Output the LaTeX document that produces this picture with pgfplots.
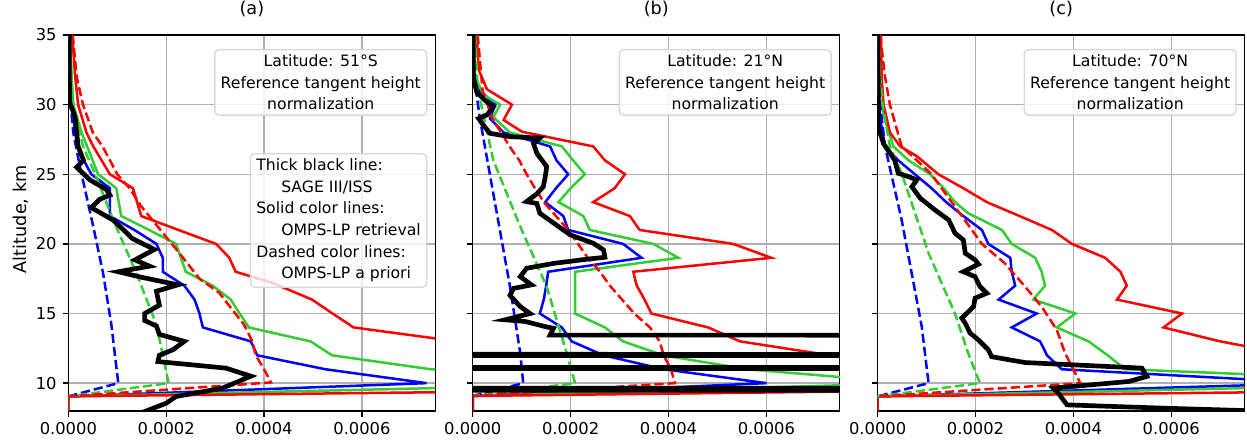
\documentclass[border=0pt]{standalone}
\usepackage{fontspec}
\setmainfont{DejaVu Sans}
\usepackage{pgfplots}
\pgfplotsset{compat=1.18}
\definecolor{mgreen}{RGB}{50,205,50}
\definecolor{gridgray}{RGB}{176,176,176}
\definecolor{boxgray}{RGB}{215,215,215}

\pgfplotsset{
  prof/.style={
    scale only axis, width=220.2pt, height=225.6pt,
    xmin=0, xmax=7.5, ymin=8, ymax=35,
    xtick={0,2,4,6}, xticklabels={0.0000,0.0002,0.0004,0.0006},
    ytick={10,15,...,35},
    grid=major, grid style={gridgray, line width=0.8pt},
    axis line style={line width=0.8pt},
    tick style={black, line width=0.8pt},
    tick align=outside, major tick length=3.5pt,
    xtick pos=bottom, ytick pos=left,
    tick label style={font=\fontsize{9.8}{11}\selectfont},
    /pgf/number format/assume math mode=true,
    title style={at={(0.5,1)}, anchor=south, inner sep=2pt, yshift=2.5pt,
      font=\fontsize{10.6}{12}\selectfont},
    unbounded coords=jump,
  },
  col/.style={line width=1.5pt},
  dsh/.style={line width=1.5pt, dash pattern=on 5.5pt off 2.4pt},
  blk/.style={line width=2.8pt, black},
}
\tikzset{
  box/.style={draw=boxgray, rounded corners=2.5pt, fill=white, fill opacity=0.8,
    text opacity=1, inner xsep=3.5pt, inner ysep=3pt, line width=0.8pt,
    font=\fontsize{9.4}{13}\selectfont, anchor=north east},
}

\begin{document}
\begin{tikzpicture}
\useasboundingbox (-41pt,-19.2pt) rectangle (707.2pt,246.6pt);

% ---- (a) 51S
\begin{axis}[prof, title={(a)}, ylabel={Altitude, km},
  ylabel style={at={(axis description cs:-0.13,0.51)}, anchor=center,
    font=\fontsize{10.6}{12}\selectfont}]
\addplot[col, blue] coordinates {(0.02,35) (0.03,32) (0.07,30) (0.14,28) (0.24,26.5) (0.47,25) (0.85,24) (0.85,22) (1.35,21) (1.8,20) (1.93,19) (1.93,18) (2.37,17) (2.58,16) (2.68,15) (2.75,14) (3.73,13) (3.86,12) (5.25,11) (7.32,10) (0,9.05) (0,8)};
\addplot[col, mgreen] coordinates {(0.03,35) (0.07,32) (0.1,30) (0.27,28) (0.44,26.5) (0.61,25) (0.98,24) (1.08,22) (1.65,21) (2.2,20) (2.3,19) (2.4,18) (2.95,17) (3.32,16) (3.5,15) (3.69,14) (4.95,13) (5.39,12) (7.4,11) (12,10) (0,9.05) (0,8)};
\addplot[col, red] coordinates {(0.08,35) (0.14,32) (0.2,30) (0.37,28) (0.51,27) (0.85,25) (1.32,24) (1.49,22) (2.25,21) (3.02,20) (3.29,19) (3.42,18) (4.17,17.2) (4.98,16) (5.4,15) (5.83,14) (7.95,13) (11,12) (15,11) (24,10) (0,9.05) (0,8)};
\addplot[dsh, blue] coordinates {(0.01,35) (0.03,32) (0.05,30) (0.1,28) (0.24,25.5) (0.51,21.24) (0.71,17.9) (0.88,14.19) (1.02,10) (0,9.05)};
\addplot[dsh, mgreen] coordinates {(0.03,35) (0.06,32) (0.1,30) (0.3,27) (0.55,25) (0.92,21.7) (1.39,17.9) (1.8,14.2) (2.05,10) (0,9.05)};
\addplot[dsh, red] coordinates {(0.09,35) (0.17,32) (0.3,30) (0.5,28) (0.7,27) (0.85,26) (1.0,25) (1.25,24) (1.49,22.7) (1.93,20.8) (2.3,19.2) (2.68,17.5) (3.08,16.5) (3.59,14.2) (3.76,13) (3.83,12) (4.0,11) (4.14,10.05) (0,9.05)};
\addplot[blk] coordinates {(0.02,35) (0.02,32) (0.03,30.1) (0.1,29.5) (0.14,29.1) (0.17,28) (0.2,27) (0.31,26) (0.17,25.5) (0.44,24.6) (0.78,23.9) (0.85,23.5) (0.64,23.2) (0.47,22.6) (0.92,21.7) (1.19,20.8) (1.3,20.4) (1.76,19.6) (1.36,18.85) (1.66,18.4) (1.02,18.0) (1.5,17.6) (2.24,17.06) (1.8,16.6) (1.86,15.6) (1.56,15.0) (1.56,14.5) (1.8,14.1) (1.86,13.5) (2.37,13.0) (2.14,12.4) (1.86,12.0) (1.83,11.55) (3.22,11.08) (3.73,10.5) (3.15,9.64) (2.2,9.04) (2.0,8.56) (1.56,7.96) (1.3,7.7)};
\node[box, align=center] at (rel axis cs:1,1) [xshift=-4.8pt, yshift=-8.4pt]
  {Latitude: 51°S\\Reference tangent height\\normalization};
\node[box, align=left] at (rel axis cs:1,1) [xshift=-4.8pt, yshift=-70.8pt]
  {Thick black line:\\\hspace*{15pt}SAGE III/ISS\\Solid color lines:\\\hspace*{15pt}OMPS-LP retrieval\\Dashed color lines:\\\hspace*{15pt}OMPS-LP a priori};
\end{axis}

% ---- (b) 21N
\begin{axis}[prof, at={(242.6pt,0pt)}, title={(b)}, yticklabels={}]
\addplot[col, blue] coordinates {(0,35) (0.01,32) (0.15,31) (0.46,30) (0.35,29) (0.63,28) (1.58,27) (1.71,26) (1.95,25) (1.7,24) (1.48,23) (1.85,22) (1.95,21) (3.07,20) (3.45,19) (1.54,18) (1.5,17) (1.45,16) (1.37,15) (1.82,14) (2.02,13) (2.67,12) (3.9,11) (6.0,10) (0,9.08) (0,8)};
\addplot[col, mgreen] coordinates {(0.01,35) (0.05,32) (0.22,30.7) (0.56,30) (0.42,29.1) (0.76,28) (1.82,27) (2.05,26) (2.29,25) (2.0,24) (1.75,23) (2.26,22) (2.39,21) (3.69,20) (4.2,19) (2.09,18) (2.09,17) (2.09,15) (2.7,14) (3.07,13) (3.89,12) (5.6,11) (9,10) (0,9.08) (0,8)};
\addplot[col, red] coordinates {(0.08,35) (0.12,32.5) (0.29,31.1) (0.8,30) (0.63,28.9) (1.0,28.06) (2.46,27) (2.7,26) (3.11,25) (2.9,24) (2.46,23) (3.21,22) (3.41,21) (5.32,20) (6.1,19) (3.28,18) (3.35,17) (3.48,16.2) (3.65,15) (4.81,14) (5.46,13) (7.3,12) (10,11) (22,10) (0,9.08) (0,8)};
\addplot[dsh, blue] coordinates {(0.03,35) (0.05,31.4) (0.15,28.9) (0.42,23.6) (0.76,16.94) (0.97,12.15) (1.03,10) (0,9.08)};
\addplot[dsh, mgreen] coordinates {(0.05,35) (0.1,31) (0.18,29.86) (0.42,26) (0.97,21.24) (1.51,16.94) (1.92,12.15) (2.09,10) (0,9.08)};
\addplot[dsh, red] coordinates {(0.1,35) (0.2,31) (0.3,30) (0.4,29) (0.58,28) (0.75,27) (0.95,26) (1.1,25) (1.27,24) (1.45,23) (1.7,22) (1.95,21) (2.15,20) (2.35,19) (2.6,18) (2.8,17) (3.05,16) (3.3,15) (3.62,14) (3.82,13) (3.9,12) (4.05,11) (4.13,10) (0,9.08)};
\addplot[blk] coordinates {(0.01,35) (0.01,32) (0.08,30.9) (0.25,30.3) (0.42,29.85) (0.29,29.26) (0.12,29.0) (0.2,28.6) (0.35,27.94) (0.76,27.7) (1.37,27.6) (1.24,27.2) (1.31,26.5) (1.51,25.55) (1.48,24.8) (1.44,24.1) (1.31,23.6) (1.1,23.04) (1.31,22.9) (1.37,22.2) (1.65,21.5) (1.99,20.65) (2.46,20.05) (2.67,19.57) (2.7,19.04) (2.33,18.9) (1.65,18.6) (1.1,18.25) (0.97,17.65) (1.2,17.06) (0.83,16.8) (0.76,16.3) (0.97,15.5) (1.17,15.0) (0.66,14.55) (1.07,14.43) (1.48,14.06) (1.65,13.94) (1.58,13.45) (200,13.3)
  (0,nan) (-200,12.09) (200,12.05) (-200,11.9)
  (0,nan) (-200,11.15) (200,11.1) (-200,11.0)
  (0,nan) (-200,9.66) (200,9.6) (-200,9.38)};
\node[box, align=center] at (rel axis cs:1,1) [xshift=-4.8pt, yshift=-8.4pt]
  {Latitude: 21°N\\Reference tangent height\\normalization};
\end{axis}

% ---- (c) 70N
\begin{axis}[prof, at={(485.6pt,0pt)}, title={(c)}, yticklabels={}]
\addplot[col, blue] coordinates {(0,35) (0.01,32) (0.05,29) (0.15,27) (0.42,26) (0.76,25) (1.1,24) (1.4,23) (1.75,22) (2.13,21) (2.26,20) (2.71,19) (2.74,18) (2.81,17) (2.47,16) (3.25,15) (2.74,14) (3.32,13) (3.46,12) (3.76,11) (9,10) (0,9.05) (0,8)};
\addplot[col, mgreen] coordinates {(0,35) (0.01,31) (0.15,28.9) (0.32,27) (0.63,26) (1.07,25) (1.35,24) (1.58,23) (1.85,22.2) (2.54,21) (2.74,20) (3.22,19) (3.35,18) (3.42,17) (3.18,16) (4.04,15) (3.66,14) (4.31,13) (4.7,12) (5.06,11) (12,10) (0,9.05) (0,8)};
\addplot[col, red] coordinates {(0.07,35) (0.08,32) (0.12,30) (0.25,28) (0.46,27) (0.8,26.3) (1.24,25) (1.75,24) (2.23,23) (2.9,22) (3.56,21) (3.97,20) (4.65,19) (4.96,18) (5.09,17) (4.89,16) (6.22,15) (5.84,14) (7.0,13) (8.5,12) (12,11) (25,10) (0,9.05) (0,8)};
\addplot[dsh, blue] coordinates {(0,35) (0.02,32) (0.05,30) (0.15,27) (0.49,21.72) (0.9,14.07) (1.04,10) (0,9.05)};
\addplot[dsh, mgreen] coordinates {(0.02,35) (0.05,32) (0.1,30) (0.25,27) (0.49,25.07) (1.04,19.33) (1.58,15) (1.85,12.15) (2.09,10) (0,9.05)};
\addplot[dsh, red] coordinates {(0.05,35) (0.15,32) (0.25,30) (0.49,27) (0.8,26) (1.1,25) (1.51,23) (1.72,22) (2.13,20) (2.6,18.6) (3.01,16.94) (3.35,15.5) (3.66,13.83) (3.83,12.15) (4.14,10) (0,9.05)};
\addplot[blk] coordinates {(0,35) (0.01,32) (0.01,28.4) (0.12,27.2) (0.35,26) (0.42,25.07) (0.63,24.83) (0.8,24.6) (0.7,24.1) (0.87,23.28) (1.17,22.44) (1.45,21.72) (1.58,20.77) (1.75,20.29) (1.79,19.33) (1.99,18.85) (2.06,18.54) (1.75,18.0) (1.99,17.65) (2.09,16.94) (2.23,16.46) (1.99,16.1) (1.96,15.5) (1.72,14.67) (1.79,14.3) (1.89,13.59) (2.06,13.1) (2.26,12.4) (2.33,11.9) (3.01,11.48) (5.4,11.08) (5.5,10.48) (5.13,10.12) (3.59,9.64) (3.69,9.28) (3.87,8.44) (5.88,8.2) (7.8,8.0)};
\node[box, align=center] at (rel axis cs:1,1) [xshift=-4.8pt, yshift=-8.4pt]
  {Latitude: 70°N\\Reference tangent height\\normalization};
\end{axis}
\end{tikzpicture}
\end{document}
